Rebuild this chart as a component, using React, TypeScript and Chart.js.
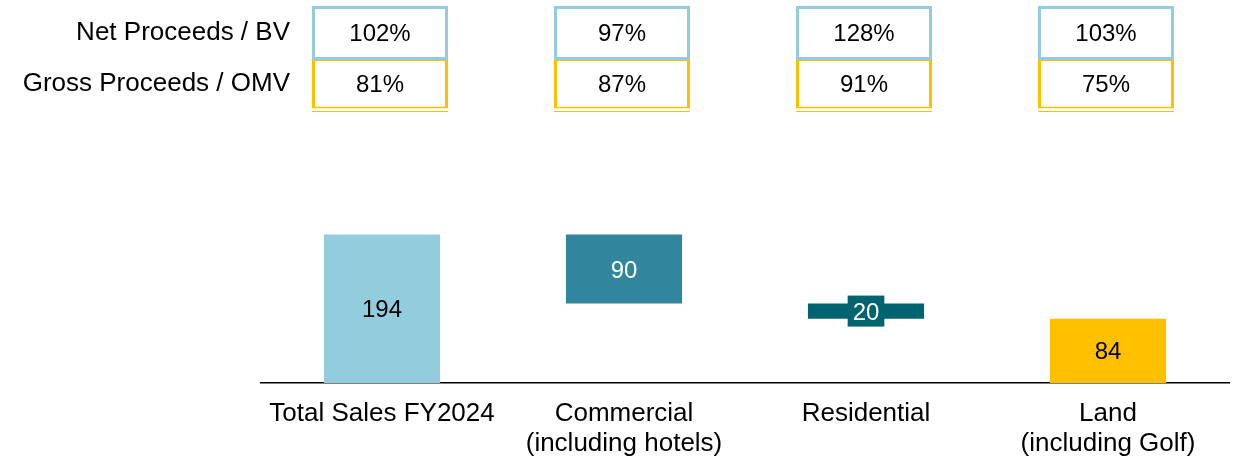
import React, { useEffect, useRef } from "react";
import { Chart, registerables } from "chart.js";

Chart.register(...registerables);

const categories: string[][] = [
  ["Total Sales FY2024"],
  ["Commercial", "(including hotels)"],
  ["Residential"],
  ["Land", "(including Golf)"],
];
const salesValues = [194, 90, 20, 84];
const rowLabels = ["Net Proceeds / BV", "Gross Proceeds / OMV"];
const netProceedsBV = ["102%", "97%", "128%", "103%"];
const grossProceedsOMV = ["81%", "87%", "91%", "75%"];
const barColors = ["#93CDDD", "#31859C", "#006470", "#FFC000"];
const labelColors = ["#000000", "#FFFFFF", "#FFFFFF", "#000000"];

const FONT = '"Liberation Sans", Arial, sans-serif';
const BLUE = "#93CDDD";
const GOLD = "#FFC000";

function buildRanges(values: number[]): [number, number][] {
  const out: [number, number][] = [];
  let running = values[0];
  out.push([0, running]);
  for (let i = 1; i < values.length; i++) {
    out.push([running - values[i], running]);
    running -= values[i];
  }
  return out;
}

const labelPlugin = {
  id: "waterfallLabels",
  afterDatasetsDraw(chart: any) {
    const ctx = chart.ctx;
    const meta = chart.getDatasetMeta(0);
    ctx.save();
    ctx.font = `24px ${FONT}`;
    ctx.textAlign = "center";
    ctx.textBaseline = "middle";
    meta.data.forEach((bar: any, i: number) => {
      const cy = (bar.y + bar.base) / 2;
      const text = String(salesValues[i]);
      const h = Math.abs(bar.base - bar.y);
      if (h < 28) {
        const w = ctx.measureText(text).width + 10;
        ctx.fillStyle = barColors[i];
        ctx.fillRect(bar.x - w / 2, cy - 15.5, w, 31);
      }
      ctx.fillStyle = labelColors[i];
      ctx.fillText(text, bar.x, cy + 2);
    });
    ctx.restore();
  },
  afterDraw(chart: any) {
    const ctx = chart.ctx;
    const xs = chart.scales.x;
    ctx.save();
    ctx.font = `26px ${FONT}`;
    ctx.textBaseline = "middle";
    ctx.fillStyle = "#000";
    ctx.textAlign = "right";
    ctx.fillText(rowLabels[0], 290, 33);
    ctx.fillText(rowLabels[1], 290, 84);
    ctx.font = `24px ${FONT}`;
    const bw = 136;
    for (let i = 0; i < categories.length; i++) {
      const cx = xs.getPixelForValue(i) - 2;
      const left = cx - bw / 2;
      const right = cx + bw / 2;
      // gold box (lower)
      ctx.strokeStyle = GOLD;
      ctx.lineWidth = 1;
      ctx.beginPath();
      ctx.moveTo(left, 60.5);
      ctx.lineTo(right, 60.5);
      ctx.stroke();
      ctx.lineWidth = 3;
      ctx.beginPath();
      ctx.moveTo(left + 1.5, 59);
      ctx.lineTo(left + 1.5, 108);
      ctx.moveTo(right - 1.5, 59);
      ctx.lineTo(right - 1.5, 108);
      ctx.stroke();
      ctx.lineWidth = 1.5;
      ctx.beginPath();
      ctx.moveTo(left, 107.5);
      ctx.lineTo(right, 107.5);
      ctx.stroke();
      ctx.lineWidth = 1;
      ctx.beginPath();
      ctx.moveTo(left, 111.5);
      ctx.lineTo(right, 111.5);
      ctx.stroke();
      // blue box (upper)
      ctx.strokeStyle = BLUE;
      ctx.lineWidth = 3;
      ctx.strokeRect(left + 1.5, 7.5, bw - 3, 51);
      ctx.fillStyle = "#000";
      ctx.textAlign = "center";
      ctx.fillText(netProceedsBV[i], cx, 34);
      ctx.fillText(grossProceedsOMV[i], cx, 85);
    }
    ctx.restore();
  },
};

export default function App() {
  const canvasRef = useRef<HTMLCanvasElement | null>(null);

  useEffect(() => {
    document.body.style.margin = "0";
    const ranges = buildRanges(salesValues);
    const chart = new Chart(canvasRef.current as HTMLCanvasElement, {
      type: "bar",
      data: {
        labels: categories as any,
        datasets: [
          {
            data: ranges as any,
            backgroundColor: barColors,
            borderWidth: 0,
            categoryPercentage: 1,
            barPercentage: 0.48,
          },
        ],
      },
      options: {
        animation: false,
        responsive: true,
        maintainAspectRatio: false,
        layout: { padding: { top: 230, left: 261, right: 6, bottom: 0 } },
        plugins: {
          legend: { display: false },
          tooltip: { enabled: false },
        },
        scales: {
          x: {
            grid: { display: false },
            border: { display: true, color: "#000000", width: 1.5 },
            ticks: {
              color: "#000000",
              font: { family: FONT, size: 26, lineHeight: 1.15 },
              padding: 8,
              maxRotation: 0,
              autoSkip: false,
            },
            afterFit: (scale: any) => {
              scale.height = 76;
            },
          },
          y: {
            display: false,
            min: 0,
            max: 200,
          },
        },
      },
      plugins: [labelPlugin],
    });
    return () => chart.destroy();
  }, []);

  return (
    <div style={{ position: "absolute", left: 0, top: 0, width: 1235, height: 459 }}>
      <canvas ref={canvasRef} />
    </div>
  );
}
